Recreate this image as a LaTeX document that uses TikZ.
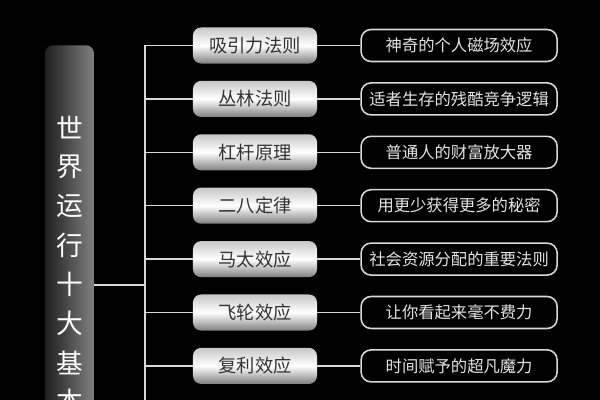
\documentclass[tikz,border=0pt]{standalone}
\usepackage{fontspec}
\newfontfamily\cjk{Noto Sans CJK SC}
\usetikzlibrary{positioning}

\begin{document}
\begin{tikzpicture}[x=0.025cm,y=-0.025cm,
		line/.style={white!85!black, line width=1.1pt},
		titlebox/.style={rounded corners=0.2cm, left color=black!88, right color=black!50, minimum width=1.225cm, minimum height=10cm, anchor=north, inner sep=0pt},
		law/.style={rounded corners=0.2cm, top color=black!22, bottom color=black!50, middle color=white, minimum width=3.1cm, minimum height=0.9cm, text=black!80, font=\cjk\fontsize{13}{13}\selectfont},
		effect/.style={draw=white!85!black, line width=1.1pt, rounded corners=0.25cm, minimum width=4.9cm, minimum height=0.8cm, text=white!90!black, font=\cjk\fontsize{11.6}{12}\selectfont},
		word/.style={text=white, font=\cjk\fontsize{19}{19}\selectfont}]
		\useasboundingbox (0,0) rectangle (600,400);
		\fill[black] (0,0) rectangle (600,400);
		\clip (0,0) rectangle (600,400);
		% left title bar
		\node[titlebox] (title) at (69.5,45) {};
		\foreach \c [count=\k] in {世,界,运,行,十,大,基,本}
			\node[word] (w\k) at (69.5,{128+39.1*(\k-1)}) {\c};
		% bus
		\coordinate (top) at (145,45.5);
		\coordinate (bottom) at (145,410);
		\coordinate (hub) at (145,285);
		\draw[line] (top) -- (bottom);
		\draw[line] (title.east |- hub) -- (hub);
		% laws and what they mean
		\foreach \i/\a/\b in {1/吸引力法则/神奇的个人磁场效应,
				2/丛林法则/适者生存的残酷竞争逻辑,
				3/杠杆原理/普通人的财富放大器,
				4/二八定律/用更少获得更多的秘密,
				5/马太效应/社会资源分配的重要法则,
				6/飞轮效应/让你看起来毫不费力,
				7/复利效应/时间赋予的超凡魔力}{
			\node[law] (law\i) at (255,{45.5+53.4*(\i-1)}) {\a};
			\node[effect, right=1.075cm of law\i] (eff\i) {\b};
			\draw[line] (law\i.west -| top) -- (law\i.west);
			\draw[line] (law\i) -- (eff\i);
		}
	\end{tikzpicture}
\end{document}
